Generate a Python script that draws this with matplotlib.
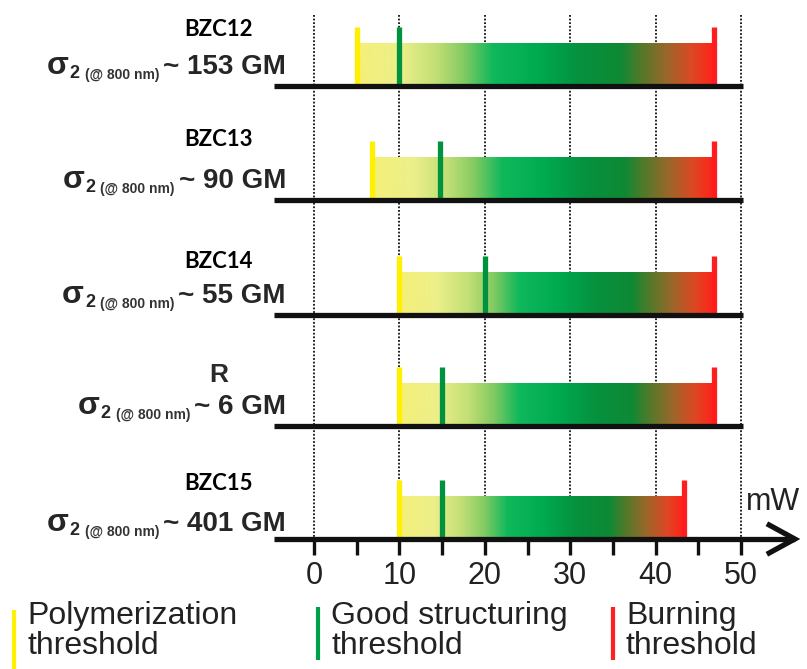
import numpy as np
import matplotlib.pyplot as plt
from matplotlib.colors import LinearSegmentedColormap

# data (mW)
samples = ['BZC12', 'BZC13', 'BZC14', 'R', 'BZC15']
sigma_gm = [153, 90, 55, 6, 401]
poly_thr = [5, 6.8, 10, 10, 10]
good_thr = [10, 14.7, 20, 15, 15]
burn_thr = [46.8, 46.8, 46.8, 46.8, 43.3]
tick_vals = [0, 10, 20, 30, 40, 50]
minor_vals = [0, 5, 10, 15, 20, 25, 30, 35, 40, 45, 50]
legend_labels = ['Polymerization\nthreshold', 'Good structuring\nthreshold', 'Burning\nthreshold']

# layout (pixel rows of the baselines, y axis is in pixels)
row_y = [86, 200, 315, 426, 539]
name_y = [29, 139, 262, 375, 484]
sig_dy = [12, 12, 12, 12, 8]
px = 8.54       # pixels per mW
x0px = 314      # pixel of 0 mW

W, H = 807, 669
fig = plt.figure(figsize=(W / 100, H / 100), dpi=100)
ax = fig.add_axes([0, 0, 1, 1])
ax.axis('off')

def xv(p):
    # pixel column -> mW
    return (p - x0px) / px

cmap = LinearSegmentedColormap.from_list('thr', [
    (0.0, '#f4ef78'), (0.12, '#ecef8a'), (0.22, '#c2df76'), (0.3, '#82ca62'),
    (0.38, '#10b85c'), (0.5, '#00ab50'), (0.62, '#05923f'), (0.74, '#0e8934'),
    (0.79, '#4b7b2b'), (0.87, '#9b672a'), (0.94, '#dc4824'), (1.0, '#ff231b')])
grad = np.linspace(0, 1, 256).reshape(1, -1)

bar_h = 43
mark_h = 59

# dotted grid
for v in tick_vals:
    ax.plot([v, v], [15, row_y[-1]], color='#111111', lw=1.3,
            linestyle=(0, (1, 1)), zorder=1)

for i, s in enumerate(samples):
    y = row_y[i]
    ax.imshow(grad, cmap=cmap, aspect='auto', interpolation='bilinear',
              extent=(poly_thr[i], burn_thr[i], y, y - bar_h), zorder=2)
    ax.vlines(poly_thr[i], y, y - mark_h, color='#fff000', lw=3.8, zorder=3)
    ax.vlines(good_thr[i], y, y - mark_h, color='#00923f', lw=3.8, zorder=3)
    ax.vlines(burn_thr[i], y, y - mark_h, color='#ff1d1d', lw=3.8, zorder=3)
    x_end = 50.2 if i < len(samples) - 1 else 56.3
    ax.plot([xv(274), x_end], [y, y], color='#111111', lw=3.8,
            solid_capstyle='butt', zorder=4)

    # labels on the left
    if s == 'R':
        ax.text(xv(219), name_y[i], s, ha='center', va='center', fontsize=19,
                fontweight='bold', family='Liberation Sans', color='#2a2a2a')
    else:
        ax.text(xv(219), name_y[i], s, ha='center', va='center', fontsize=16,
                fontweight='bold', family='Lato', color='black')
    yb = y - sig_dy[i]
    main = ax.text(xv(286), yb, '~ %d GM' % sigma_gm[i], ha='right',
                   va='baseline', fontsize=20, fontweight='bold',
                   family='Liberation Sans', color='#262626')
    sub = ax.annotate('(@ 800 nm)', xy=(0, yb), xycoords=(main, 'data'),
                      xytext=(-4, -5), textcoords='offset pixels', ha='right',
                      va='baseline', fontsize=10, fontweight='bold',
                      family='Liberation Sans', color='#333333')
    two = ax.annotate('2', xy=(0, yb), xycoords=(sub, 'data'),
                      xytext=(-5, -4), textcoords='offset pixels', ha='right',
                      va='baseline', fontsize=13, fontweight='bold',
                      family='Liberation Sans', color='#262626')
    ax.annotate('σ', xy=(0, yb), xycoords=(two, 'data'),
                xytext=(-1, 0), textcoords='offset pixels', ha='right',
                va='baseline', fontsize=23, fontweight='bold',
                family='Liberation Sans', color='#262626')

# axis ticks, arrow head and labels
ya = row_y[-1]
for v in minor_vals:
    ax.plot([v, v], [ya, ya + 16], color='#111111', lw=2.4,
            solid_capstyle='butt', zorder=4)
ax.plot([56.3 - 3.0, 56.3, 56.3 - 3.0], [ya - 14, ya, ya + 14],
        color='#111111', lw=3.8, solid_joinstyle='miter', zorder=4)
for v in tick_vals:
    ax.text(v, 576, str(v), ha='center', va='center', fontsize=22,
            family='Liberation Sans', color='#222222')
ax.text(xv(746), 510, 'mW', ha='left', va='baseline', fontsize=22,
        family='Liberation Sans', color='#222222')

# legend
leg_x = [14, 318, 613]
leg_c = ['#fff200', '#00a04a', '#ff2020']
leg_top = [610, 607, 607]
leg_bot = [669, 660, 660]
for lx, c, lt, lb, lab in zip(leg_x, leg_c, leg_top, leg_bot, legend_labels):
    ax.vlines(xv(lx), lt, lb, color=c, lw=3.0)
    ax.text(xv(lx + 13), 601, lab, ha='left', va='top', fontsize=23,
            family='Liberation Sans', color='#222222', linespacing=1.02)

ax.set_xlim(xv(0), xv(W))
ax.set_ylim(H, 0)
fig.savefig('out.png', dpi=100)
